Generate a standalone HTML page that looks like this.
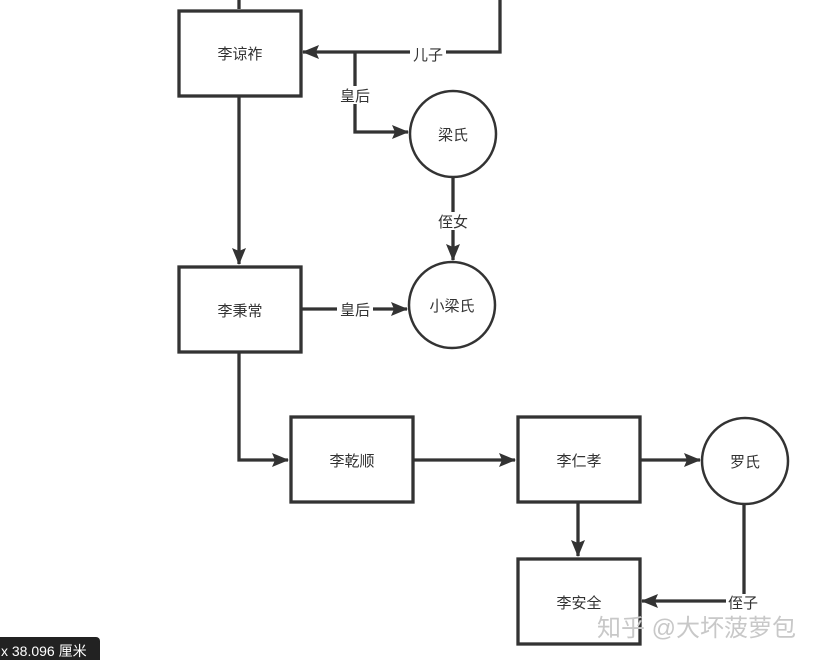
<!DOCTYPE html>
<html><head><meta charset="utf-8"><style>
body{margin:0;background:#fff;width:820px;height:660px;overflow:hidden;font-family:"Liberation Sans","Noto Sans CJK SC",sans-serif}
svg text{font-family:"Liberation Sans","Noto Sans CJK SC",sans-serif;font-size:15px;fill:#333}
</style></head><body>
<svg width="820" height="660" viewBox="0 0 820 660">
<defs>
<marker id="b" markerWidth="18" markerHeight="14" refX="16" refY="7" orient="auto" markerUnits="userSpaceOnUse"><path d="M0,0 L17,7 L0,14 L3,7z" fill="#333"/></marker></defs>
<g fill="none" stroke="#333" stroke-width="3.3">
<line x1="239" y1="0" x2="239" y2="9"/>
<polyline points="500,0 500,52 303,52" marker-end="url(#b)"/>
<polyline points="355,52 355,132 408,132" marker-end="url(#b)"/>
<line x1="239" y1="97" x2="239" y2="264" marker-end="url(#b)"/>
<line x1="453" y1="177" x2="453" y2="260" marker-end="url(#b)"/>
<line x1="302" y1="309" x2="407" y2="309" marker-end="url(#b)"/>
<polyline points="239,353 239,460 288,460" marker-end="url(#b)"/>
<line x1="414" y1="460" x2="515" y2="460" marker-end="url(#b)"/>
<line x1="641" y1="460" x2="700" y2="460" marker-end="url(#b)"/>
<line x1="578" y1="503" x2="578" y2="556" marker-end="url(#b)"/>
<polyline points="744,504 744,601 642,601" marker-end="url(#b)"/>
<rect x="179" y="11" width="122" height="85" fill="#fff"/>
<rect x="179" y="267" width="122" height="85" fill="#fff"/>
<rect x="291" y="417" width="122" height="85" fill="#fff"/>
<rect x="518" y="417" width="122" height="85" fill="#fff"/>
<rect x="518" y="559" width="122" height="85" fill="#fff"/>
</g>
<g fill="#fff" stroke="#333" stroke-width="2.5">
<circle cx="453" cy="134" r="43"/>
<circle cx="452" cy="305" r="43"/>
<circle cx="745" cy="461" r="43"/>
</g>
<g fill="#fff"><rect x="410" y="44" width="36" height="18"/><rect x="338" y="86" width="36" height="18"/><rect x="435" y="212" width="36" height="18"/><rect x="337" y="300" width="36" height="18"/><rect x="726" y="594" width="36" height="18"/></g>
<g text-anchor="middle">
<text x="240" y="59">李谅祚</text>
<text x="428" y="60">儿子</text>
<text x="355" y="101">皇后</text>
<text x="453" y="140">梁氏</text>
<text x="453" y="227">侄女</text>
<text x="240" y="316">李秉常</text>
<text x="355" y="315">皇后</text>
<text x="452" y="311">小梁氏</text>
<text x="352" y="466">李乾顺</text>
<text x="579" y="466">李仁孝</text>
<text x="745" y="467">罗氏</text>
<text x="579" y="608">李安全</text>
<text x="743" y="608">侄子</text>
</g>
<text x="597" y="636" style="font-size:24px;fill:#c8c8c8">知乎 @大坏菠萝包</text>
<rect x="-5" y="637" width="105" height="30" rx="4" fill="#222"/>
<text x="1" y="656" style="fill:#fff;font-size:14px">x 38.096 厘米</text>
</svg>
</body></html>
